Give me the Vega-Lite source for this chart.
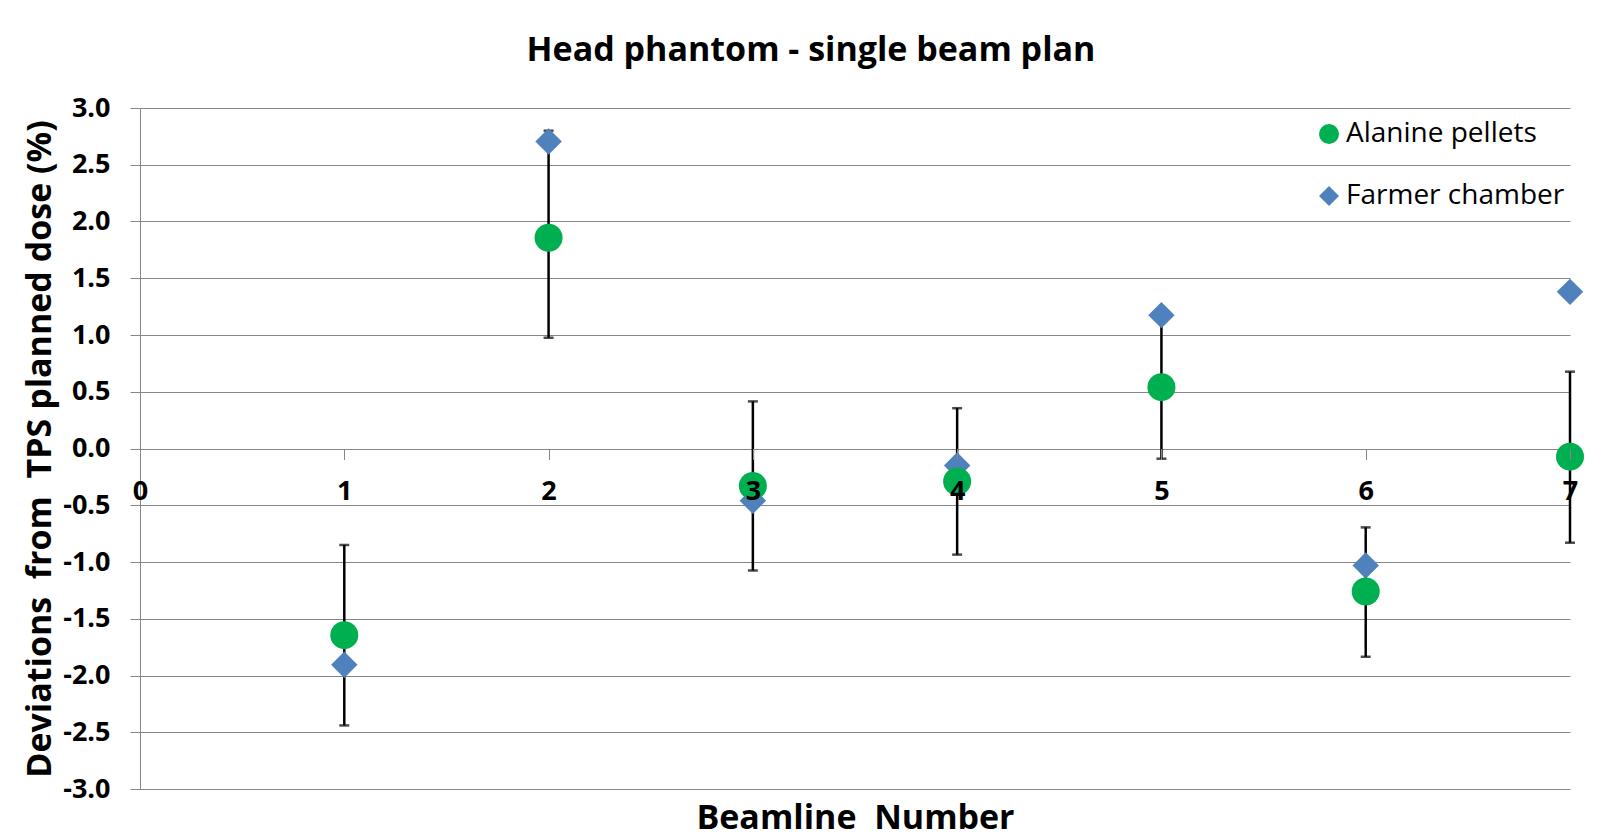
{
  "$schema": "https://vega.github.io/schema/vega-lite/v6.json",
  "autosize": "none",
  "width": 1430,
  "height": 681,
  "padding": {"left": 140, "top": 108, "right": 39, "bottom": 49},
  "background": "white",
  "config": {
    "font": "Open Sans",
    "view": {"stroke": null}
  },
  "title": {
    "text": "Head phantom - single beam plan",
    "font": "Open Sans",
    "fontSize": 34,
    "fontWeight": "bold",
    "color": "black",
    "anchor": "middle",
    "frame": "group",
    "baseline": "bottom",
    "dx": -44,
    "offset": -8
  },
  "data": {
    "values": [
      {"beamline": 1, "series": "Farmer chamber", "value": -1.905},
      {"beamline": 2, "series": "Farmer chamber", "value": 2.705},
      {"beamline": 3, "series": "Farmer chamber", "value": -0.46},
      {"beamline": 4, "series": "Farmer chamber", "value": -0.15},
      {"beamline": 5, "series": "Farmer chamber", "value": 1.175},
      {"beamline": 6, "series": "Farmer chamber", "value": -1.03},
      {"beamline": 7, "series": "Farmer chamber", "value": 1.38},
      {"beamline": 1, "series": "Alanine pellets", "value": -1.645, "lo": -2.44, "hi": -0.85},
      {"beamline": 2, "series": "Alanine pellets", "value": 1.857, "lo": 0.976, "hi": 2.8},
      {"beamline": 3, "series": "Alanine pellets", "value": -0.33, "lo": -1.075, "hi": 0.415},
      {"beamline": 4, "series": "Alanine pellets", "value": -0.29, "lo": -0.935, "hi": 0.355},
      {"beamline": 5, "series": "Alanine pellets", "value": 0.54, "lo": -0.09, "hi": 1.17},
      {"beamline": 6, "series": "Alanine pellets", "value": -1.26, "lo": -1.835, "hi": -0.695},
      {"beamline": 7, "series": "Alanine pellets", "value": -0.072, "lo": -0.83, "hi": 0.677}
    ]
  },
  "layer": [
    {
      "transform": [{"filter": "datum.series === 'Alanine pellets'"}],
      "mark": {"type": "rule", "color": "black", "strokeWidth": 2.5},
      "encoding": {
        "x": {"field": "beamline", "type": "quantitative", "scale": {"domain": [0, 7], "nice": false, "zero": false},
          "axis": {
            "orient": "bottom", "offset": -340.5, "zindex": 1,
            "values": [0, 1, 2, 3, 4, 5, 6, 7], "format": "d",
            "grid": false, "domain": false,
            "ticks": true, "tickColor": "#868686", "tickSize": 11, "tickWidth": 1,
            "labelFont": "Open Sans", "labelFontSize": 27, "labelFontWeight": "bold", "labelColor": "black",
            "labelPadding": 32, "labelBaseline": "middle", "labelFlush": false, "labelOverlap": false,
            "title": "Beamline\u00a0 Number",
            "titleFont": "Open Sans", "titleFontSize": 34, "titleFontWeight": "bold", "titleColor": "black",
            "titleBaseline": "alphabetic", "titleY": 380
          }
        },
        "y": {"field": "lo", "type": "quantitative", "scale": {"domain": [-3, 3], "nice": false, "zero": false},
          "axis": {
            "orient": "left", "zindex": 0,
            "values": [-3, -2.5, -2, -1.5, -1, -0.5, 0, 0.5, 1, 1.5, 2, 2.5, 3], "format": ".1f",
            "labelExpr": "replace(datum.label, '\u2212', '-')",
            "grid": true, "gridColor": "#868686", "gridWidth": 1,
            "domain": true, "domainColor": "#868686", "domainWidth": 1,
            "ticks": true, "tickColor": "#868686", "tickSize": 10, "tickWidth": 1,
            "labelFont": "Open Sans", "labelFontSize": 27, "labelFontWeight": "bold", "labelColor": "black",
            "labelPadding": 20, "labelFlush": false, "labelOverlap": false,
            "title": "Deviations\u00a0 from\u00a0 TPS planned dose (%)",
            "titleFont": "Open Sans", "titleFontSize": 34, "titleFontWeight": "bold", "titleColor": "black",
            "titlePadding": 5
          }
        },
        "y2": {"field": "hi"}
      }
    },
    {
      "transform": [{"filter": "datum.series === 'Alanine pellets'"}],
      "mark": {"type": "tick", "orient": "horizontal", "color": "black", "size": 10, "thickness": 2.5},
      "encoding": {
        "x": {"field": "beamline", "type": "quantitative"},
        "y": {"field": "lo", "type": "quantitative"}
      }
    },
    {
      "transform": [{"filter": "datum.series === 'Alanine pellets'"}],
      "mark": {"type": "tick", "orient": "horizontal", "color": "black", "size": 10, "thickness": 2.5},
      "encoding": {
        "x": {"field": "beamline", "type": "quantitative"},
        "y": {"field": "hi", "type": "quantitative"}
      }
    },
    {
      "transform": [{"filter": "datum.series === 'Farmer chamber'"}],
      "mark": {"type": "point", "filled": true, "opacity": 1, "strokeWidth": 0, "size": 700},
      "encoding": {
        "x": {"field": "beamline", "type": "quantitative"},
        "y": {"field": "value", "type": "quantitative"},
        "color": {"field": "series", "type": "nominal",
          "scale": {"domain": ["Alanine pellets", "Farmer chamber"], "range": ["#00b050", "#4f81bd"]},
          "legend": {
            "title": null, "orient": "none", "legendX": 1175, "legendY": 12,
            "labelFont": "Open Sans", "labelFontSize": 28, "labelColor": "black", "labelLimit": 0,
            "symbolSize": 400, "symbolStrokeWidth": 0, "labelOffset": 3, "rowPadding": 34,
            "padding": 0,
            "encode": {"symbols": {"update": {"size": [{"test": "datum.value === 'Farmer chamber'", "value": 190}, {"value": 400}]}}}
          }
        },
        "shape": {"field": "series", "type": "nominal",
          "scale": {"domain": ["Alanine pellets", "Farmer chamber"], "range": ["circle", "diamond"]}
        }
      }
    },
    {
      "transform": [{"filter": "datum.series === 'Alanine pellets'"}],
      "mark": {"type": "point", "filled": true, "opacity": 1, "strokeWidth": 0, "size": 784},
      "encoding": {
        "x": {"field": "beamline", "type": "quantitative"},
        "y": {"field": "value", "type": "quantitative"},
        "color": {"field": "series", "type": "nominal"},
        "shape": {"field": "series", "type": "nominal"}
      }
    }
  ]
}
